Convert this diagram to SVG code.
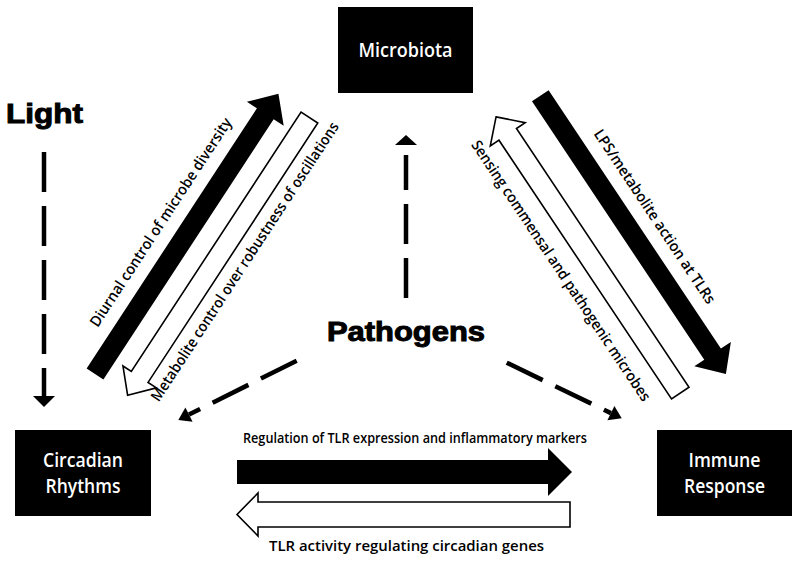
<svg xmlns="http://www.w3.org/2000/svg" width="800" height="562" viewBox="0 0 800 562">
<style>
.box{fill:#000}
.nl{font-family:"Open Sans","Liberation Sans",sans-serif;font-weight:600;font-size:20px;fill:#fff;text-anchor:middle}
.el{font-family:"Open Sans","Liberation Sans",sans-serif;font-weight:600;font-size:15px;fill:#000}
.dl{font-family:"Open Sans","Liberation Sans",sans-serif;font-weight:600;font-size:15px;fill:#000;text-anchor:middle}
.big{font-family:"Liberation Sans",Arial,sans-serif;font-weight:bold;fill:#000;stroke:#000;stroke-width:1}
.dash{stroke:#000;stroke-width:4.5;fill:none;stroke-dasharray:40 14}
.solid{fill:#000}
.hollow{fill:#fff;stroke:#000;stroke-width:1.6;stroke-linejoin:miter}
.head{fill:#000}
</style>
<rect width="800" height="562" fill="#fff"/>
<g id="microbiota">
<rect class="box" x="338" y="7" width="135" height="86"/>
<text class="nl" x="405.5" y="57" textLength="94" lengthAdjust="spacingAndGlyphs">Microbiota</text>
</g>
<g id="circadian">
<rect class="box" x="15" y="430" width="136" height="86"/>
<text class="nl" x="83" y="467" textLength="80" lengthAdjust="spacingAndGlyphs">Circadian</text>
<text class="nl" x="83" y="493" textLength="75" lengthAdjust="spacingAndGlyphs">Rhythms</text>
</g>
<g id="immune">
<rect class="box" x="657" y="430" width="135" height="86"/>
<text class="nl" x="724.5" y="467" textLength="72" lengthAdjust="spacingAndGlyphs">Immune</text>
<text class="nl" x="724.5" y="493" textLength="81" lengthAdjust="spacingAndGlyphs">Response</text>
</g>
<g id="light">
<text class="big" x="6" y="123" font-size="28" textLength="77" lengthAdjust="spacingAndGlyphs">Light</text>
</g>
<g id="pathogens">
<text class="big" x="327" y="341" font-size="27" textLength="158" lengthAdjust="spacingAndGlyphs">Pathogens</text>
</g>
<g id="connectors">
<g transform="translate(95,374) rotate(-56.8)">
<path class="solid" d="M0,-10 H311 V-22 L335,0 L311,22 V10 H0 Z"/>
<path class="hollow" d="M0,39 L22,19 V29 H332 V49 H22 V59 Z"/>
<text class="dl" x="163" y="-23" textLength="246" lengthAdjust="spacingAndGlyphs">Diurnal control of microbe diversity</text>
<text class="dl" x="176" y="69" textLength="330" lengthAdjust="spacingAndGlyphs">Metabolite control over robustness of oscillations</text>
</g>
<g transform="translate(540.3,95.8) rotate(56.3)">
<path class="solid" d="M0,-10 H310.5 V-22 L334.5,0 L310.5,22 V10 H0 Z"/>
<path class="hollow" d="M-7,48.5 L14,27.5 V38 H325 V59 H14 V69.5 Z"/>
<text class="dl" x="164" y="-23" textLength="206" lengthAdjust="spacingAndGlyphs">LPS/metabolite action at TLRs</text>
<text class="dl" x="157" y="85" textLength="310" lengthAdjust="spacingAndGlyphs">Sensing commensal and pathogenic microbes</text>
</g>
<path class="solid" d="M237,460 H548 V448 L572,472 L548,496 V484 H237 Z"/>
<path class="hollow" d="M237,514.5 L258,493 V502 H570 V527 H258 V536 Z"/>
<text class="el" x="243" y="442.5" textLength="344" lengthAdjust="spacingAndGlyphs">Regulation of TLR expression and inflammatory markers</text>
<text class="el" x="269" y="551" textLength="275" lengthAdjust="spacingAndGlyphs">TLR activity regulating circadian genes</text>
<line class="dash" x1="44" y1="152" x2="44" y2="397"/>
<polygon class="head" points="33,396 55,396 44,407"/>
<line class="dash" x1="406" y1="298" x2="406" y2="155"/>
<polygon class="head" points="395,145 417,145 406,135"/>
<line class="dash" x1="296.7" y1="360.7" x2="189" y2="414.6"/>
<polygon class="head" points="178.3,420 192.6,421.8 185.4,407.4"/>
<line class="dash" x1="506.7" y1="362.7" x2="610.9" y2="413.1"/>
<polygon class="head" points="621.7,418.3 607.4,420.3 614.4,405.9"/>
</g>
</svg>
